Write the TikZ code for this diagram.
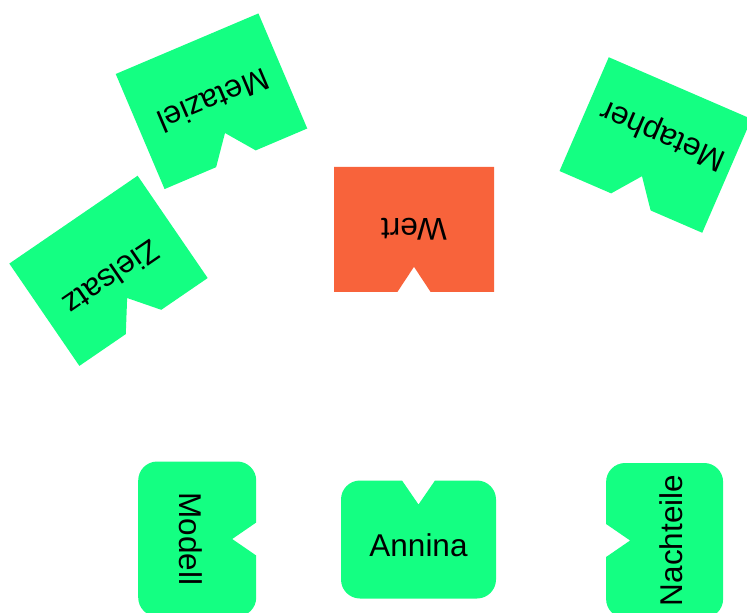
\documentclass[tikz,border=0pt]{standalone}
\usepackage{fontspec}
\setmainfont{Liberation Sans}
\definecolor{cardgreen}{HTML}{14FF82}
\definecolor{cardorange}{HTML}{F8633B}

% parameters of one notched card
\pgfkeys{/card/.cd,
  w/.store in=\cardW, h/.store in=\cardH,
  nw/.store in=\cardNW, nd/.store in=\cardND,
  r/.store in=\cardR, s/.store in=\cardS, t/.store in=\cardT,
  fill/.store in=\cardFill,
  defaults/.style={w=155,h=124,nw=43,nd=28,r=0.01,s=0,t=0,fill=cardgreen}}

\tikzset{cardlabel/.style={font=\fontsize{31.5}{36}\selectfont, inner sep=0pt,
  text height=22pt, text depth=0pt}}

% #1 keys, #2 node name, #3 centre, #4 angle, #5 label
\newcommand{\card}[5]{%
  \pgfkeys{/card/.cd,defaults,#1}%
  \begin{scope}[shift={#3},rotate=#4]
    \fill[\cardFill] (0,{-\cardH/2}) -- ({\cardW/2-\cardR},{-\cardH/2})
      arc[start angle=-90,end angle=0,radius=\cardR pt]
      -- ({\cardW/2},{\cardH/2-\cardR})
      arc[start angle=0,end angle=90,radius=\cardR pt]
      -- ({\cardNW/2},{\cardH/2}) -- (0,{\cardH/2-\cardND}) -- ({-\cardNW/2},{\cardH/2})
      -- ({-\cardW/2+\cardR},{\cardH/2})
      arc[start angle=90,end angle=180,radius=\cardR pt]
      -- ({-\cardW/2},{-\cardH/2+\cardR})
      arc[start angle=180,end angle=270,radius=\cardR pt]
      -- cycle;
    \node[cardlabel,rotate=#4] (#2) at ({\cardS},{-\cardT}) {#5};
  \end{scope}}

\begin{document}
\begin{tikzpicture}[x=1pt,y=1pt]
  \useasboundingbox (0,0) rectangle (747,-613);

  \card{fill=cardorange,w=160,h=125,nw=33,nd=25}{wert}{(414,-229.3)}{180}{Wert}
  \card{w=155,h=118,nw=33,nd=24,r=19,t=6}{annina}{(418.5,-539.5)}{0}{Annina}
  \card{w=155,h=118,nw=33,nd=24,r=19,t=7}{modell}{(197.2,-539)}{-90}{Modell}
  \card{w=155,h=117,nw=33,nd=24,r=19,t=7}{nachteile}{(664.6,-540.5)}{90}{Nachteile}
  \card{w=155,h=125,s=-2}{metaziel}{(211.5,-101.25)}{203}{Metaziel}
  \card{w=155.5,h=124,nd=29,s=1.5,t=-7.5}{zielsatz}{(108.5,-270.8)}{214.4}{Zielsatz}
  \card{w=155.5,h=124,s=-3,t=10}{metapher}{(655.5,-145)}{156.6}{Metapher}
\end{tikzpicture}
\end{document}
